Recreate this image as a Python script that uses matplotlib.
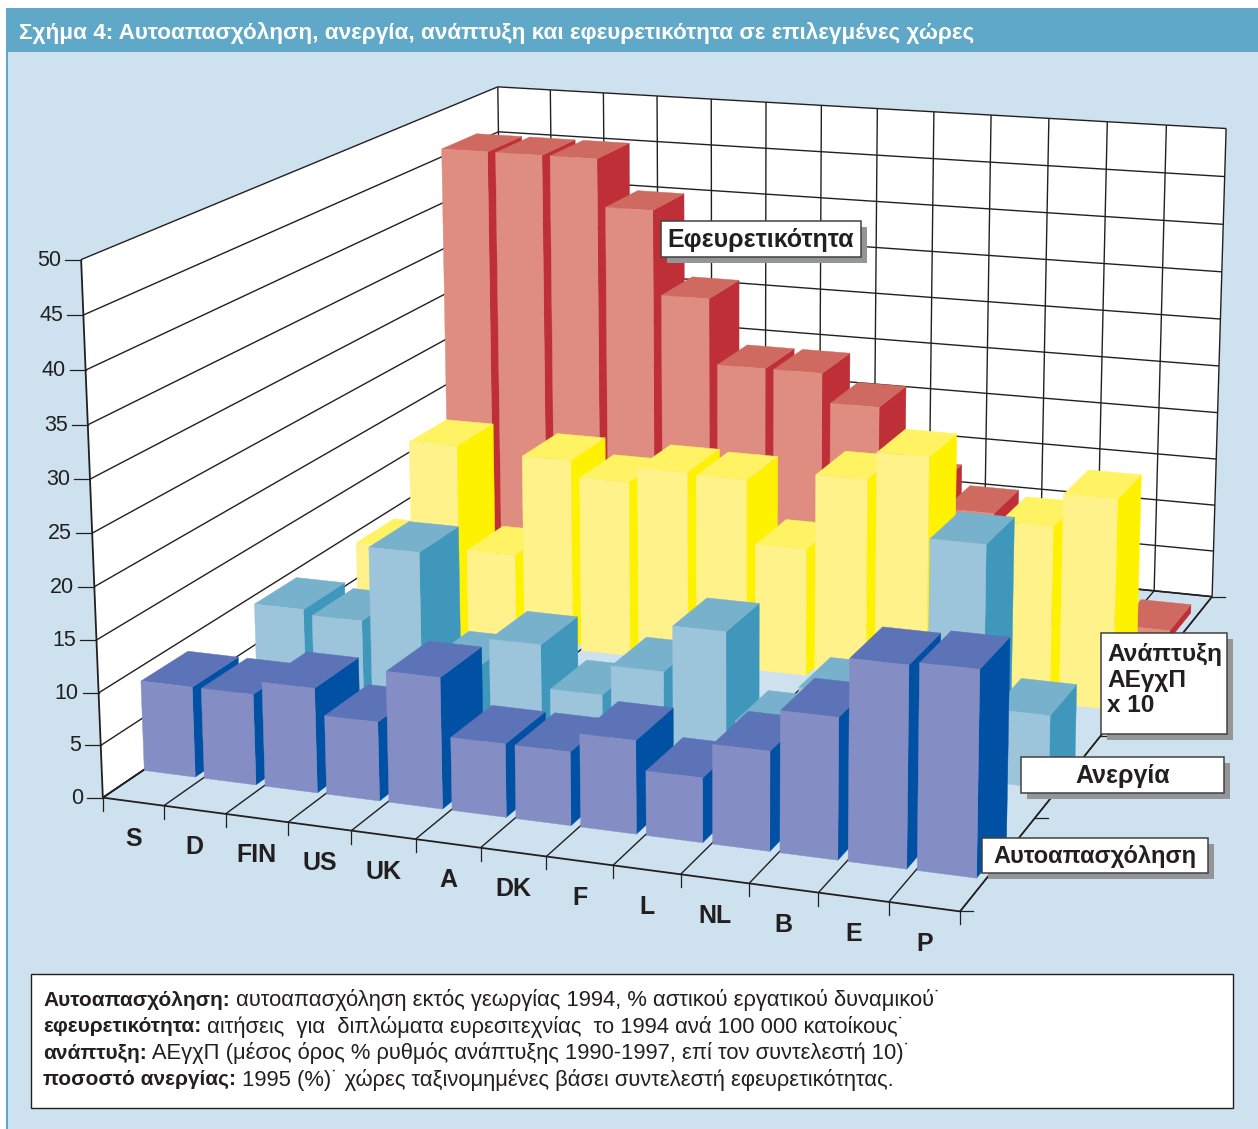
"""Self-employment, unemployment, growth and inventiveness - 3D bar chart."""
import numpy as np
import matplotlib
matplotlib.use("Agg")
import matplotlib.pyplot as plt
from matplotlib.patches import Polygon, Rectangle

plt.rcParams["font.family"] = ["Liberation Sans", "DejaVu Sans"]

countries = ["S", "D", "FIN", "US", "UK", "A", "DK", "F", "L", "NL", "B", "E", "P"]
self_empl = [8.7, 8.7, 10.0, 7.5, 12.4, 6.9, 6.9, 8.7, 6.0, 9.2, 13.0, 18.4, 18.7]
unempl = [9.2, 8.7, 16.2, 5.6, 8.3, 4.0, 7.0, 11.6, 3.0, 7.0, 9.0, 22.5, 7.0]
growth = [8.9, 20.2, 9.3, 19.8, 18.1, 19.7, 19.5, 13.0, 20.7, 23.5, 8.0, 17.7, 21.0]
invent = [45.9, 45.9, 45.9, 40.8, 31.8, 24.8, 24.8, 21.7, 13.7, 11.5, 2.0, 1.0, 0.9]
z_ticks = [0, 5, 10, 15, 20, 25, 30, 35, 40, 45, 50]

BG = "#cde2ee"
HEAD = "#5fa8c8"
INK = "#231f20"
# front, top, side
RED = ("#de8d80", "#ce6a5f", "#bf2f38")
YELLOW = ("#fff28a", "#fff364", "#fff200")
LBLUE = ("#9cc4da", "#78b1cb", "#3f98bc")
BLUE = ("#848ec5", "#5c73b8", "#0050a4")

N, ROWS, ZMAX = 13, 4, 50
BAR_W, BAR_X0 = 0.85, 0.02
ROW_D, ROW_Y0 = 0.40, 0.33

# camera calibration: axis frame corners -> pixel position in the picture
world = np.array([(0, 0, 0), (0, 0, 50), (0, 4, 50), (13, 4, 50), (13, 4, 0), (13, 0, 0),
                  (6, 0, 0), (11, 0, 0)], float)
pixel = np.array([(102, 797), (81, 260), (498, 87), (1226, 128), (1212, 597), (960, 912),
                  (482, 848), (818, 892)], float)


def calibrate(w, p):
    rows = []
    for (x, y, z), (u, v) in zip(w, p / 1000):
        z = z / 10
        rows.append([x, y, z, 1, 0, 0, 0, 0, -u*x, -u*y, -u*z, -u])
        rows.append([0, 0, 0, 0, x, y, z, 1, -v*x, -v*y, -v*z, -v])
    return np.linalg.svd(np.array(rows))[2][-1].reshape(3, 4)


CAM = calibrate(world, pixel)


def proj(x, y, z):
    h = CAM @ np.array([x, y, z / 10, 1.0])
    return h[0] / h[2] * 1000, h[1] / h[2] * 1000


fig = plt.figure(figsize=(12.58, 11.29), dpi=100)
ax = fig.add_axes([0, 0, 1, 1])
ax.set_xlim(0, 1258)
ax.set_ylim(1129, 0)
ax.axis("off")


def line(a, b, lw=1.0, color=INK, z=2):
    pa, pb = proj(*a), proj(*b)
    ax.plot([pa[0], pb[0]], [pa[1], pb[1]], color=color, lw=lw, zorder=z,
            solid_capstyle="butt")


def face(pts, color, z=3):
    ax.add_patch(Polygon([proj(*p) for p in pts], closed=True, fc=color, ec=color,
                         lw=0.3, zorder=z))


# panel
ax.add_patch(Rectangle((7, 8), 1251, 1121, fc=BG, ec="none", zorder=0))
ax.add_patch(Rectangle((6, 8), 1.6, 1121, fc=HEAD, ec="none", zorder=0.5))
ax.add_patch(Rectangle((7, 8), 1251, 44, fc=HEAD, ec="none", zorder=1))
ax.text(19, 33, "Σχήμα 4: Αυτοαπασχόληση, ανεργία, ανάπτυξη και εφευρετικότητα σε επιλεγμένες χώρες",
        color="white", fontweight="bold", fontsize=16.2, va="center", ha="left", zorder=2)

# walls and floor
face([(0, 0, 0), (0, ROWS, 0), (0, ROWS, ZMAX), (0, 0, ZMAX)], "white", 1)
face([(0, ROWS, 0), (N, ROWS, 0), (N, ROWS, ZMAX), (0, ROWS, ZMAX)], "white", 1)
face([(0, 0, 0), (N, 0, 0), (N, ROWS, 0), (0, ROWS, 0)], BG, 1.5)

for t in z_ticks:
    line((0, 0, t), (0, ROWS, t))
    line((0, ROWS, t), (N, ROWS, t))
    a = proj(0, 0, t)
    ax.plot([a[0] - 16, a[0]], [a[1], a[1]], color=INK, lw=0.9, zorder=2)
    ax.text(a[0] - 20, a[1] + 0.5, str(t), ha="right", va="center", fontsize=15.5, color=INK)
for i in range(N + 1):
    line((i, ROWS, 0), (i, ROWS, ZMAX))
    line((i, 0, 0), (i, ROWS, 0))
    a = proj(i, 0, 0)
    ax.plot([a[0], a[0]], [a[1], a[1] + 13], color=INK, lw=0.9, zorder=2)
for r in range(ROWS + 1):
    a = proj(N, r, 0)
    ax.plot([a[0], a[0] + 13], [a[1], a[1]], color=INK, lw=0.9, zorder=2)
line((0, 0, 0), (0, 0, ZMAX), 1.3)
line((0, 0, 0), (N, 0, 0), 1.3)
line((N, 0, 0), (N, ROWS, 0), 1.2)
line((0, 0, 0), (0, ROWS, 0), 1.3)
line((0, ROWS, 0), (N, ROWS, 0), 1.2)

for i, name in enumerate(countries):
    a = proj(i + 0.5, 0, 0)
    ax.text(a[0], a[1] + 37, name, ha="center", va="center", fontweight="bold",
            fontsize=18, color=INK, zorder=2)

# bars, painted back to front and left to right
series = [(invent, RED), (growth, YELLOW), (unempl, LBLUE), (self_empl, BLUE)]
order = 3.0
for idx, (vals, cols) in enumerate(series):
    r = ROWS - 1 - idx
    y0, y1 = r + ROW_Y0, r + ROW_Y0 + ROW_D
    for i in range(N):
        h = vals[i]
        x0, x1 = i + BAR_X0, i + BAR_X0 + BAR_W
        order += 0.01
        face([(x1, y0, 0), (x1, y1, 0), (x1, y1, h), (x1, y0, h)], cols[2], order)
        face([(x0, y0, h), (x1, y0, h), (x1, y1, h), (x0, y1, h)], cols[1], order)
        face([(x0, y0, 0), (x1, y0, 0), (x1, y0, h), (x0, y0, h)], cols[0], order)


def label_box(x0, y0, x1, y1, lines, ha="center", pad=6, size=18):
    ax.add_patch(Rectangle((x0 + pad, y0 + pad), x1 - x0, y1 - y0, fc="#939598", ec="none", zorder=20))
    ax.add_patch(Rectangle((x0, y0), x1 - x0, y1 - y0, fc="white", ec="#414042", lw=1.1, zorder=21))
    if ha == "center":
        ax.text((x0 + x1) / 2, (y0 + y1) / 2 + 1, lines[0], ha="center", va="center",
                fontweight="bold", fontsize=size, color=INK, zorder=22)
    else:
        for k, s in enumerate(lines):
            ax.text(x0 + 6, y0 + 22 + k * 25.5, s, ha="left", va="center",
                    fontweight="bold", fontsize=size, color=INK, zorder=22)


label_box(661, 221, 861, 257, ["Εφευρετικότητα"])
label_box(1101, 633, 1227, 734, ["Ανάπτυξη", "ΑΕγχΠ", "x 10"], ha="left", size=17.6)
label_box(1021, 757, 1224, 793, ["Ανεργία"])
label_box(982, 838, 1208, 873, ["Αυτοαπασχόληση"], size=17)

# note box
ax.add_patch(Rectangle((31, 974), 1202, 134, fc="white", ec=INK, lw=1.0, zorder=20))
notes = [
    ("Αυτοαπασχόληση:", " αυτοαπασχόληση εκτός γεωργίας 1994, % αστικού εργατικού δυναμικού˙"),
    ("εφευρετικότητα:", " αιτήσεις  για  διπλώματα ευρεσιτεχνίας  το 1994 ανά 100 000 κατοίκους˙"),
    ("ανάπτυξη:", " ΑΕγχΠ (μέσος όρος % ρυθμός ανάπτυξης 1990-1997, επί τον συντελεστή 10)˙"),
    ("ποσοστό ανεργίας:", " 1995 (%)˙ χώρες ταξινομημένες βάσει συντελεστή εφευρετικότητας."),
]
renderer = fig.canvas.get_renderer()
for k, (bold, rest) in enumerate(notes):
    y = 1000 + k * 26.6
    t = ax.text(43, y, bold, fontweight="bold", fontsize=15, va="center", color=INK, zorder=22)
    w = t.get_window_extent(renderer).width
    ax.text(43 + w, y, rest, fontsize=15.8, va="center", color=INK, zorder=22)

fig.savefig("out.png", dpi=100)
